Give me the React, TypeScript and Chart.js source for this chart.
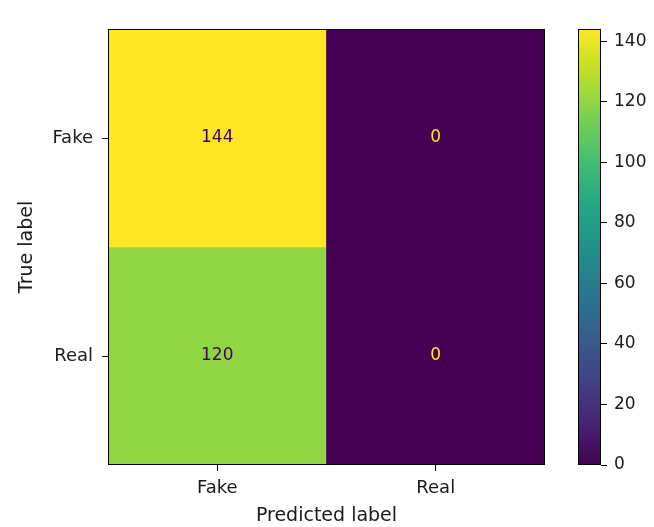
import React, { useEffect, useRef } from 'react';
import { Chart, registerables } from 'chart.js';

Chart.register(...registerables);

// ---- data ----
const predictedLabels = ['Fake', 'Real'];
const trueLabels = ['Fake', 'Real'];
const rowFake = [144, 0];
const rowReal = [120, 0];
const matrix = [rowFake, rowReal];
const colorbarTicks = [0, 20, 40, 60, 80, 100, 120, 140];
const vmin = 0;
const vmax = 144;
const xTitle = 'Predicted label';
const yTitle = 'True label';

// ---- viridis colormap stops ----
const VIRIDIS = [
  '#440154', '#482475', '#414487', '#355f8d', '#2a788e', '#21918c',
  '#22a884', '#44bf70', '#7ad151', '#bddf26', '#fde725',
];

function hexToRgb(h: string) {
  return [parseInt(h.slice(1, 3), 16), parseInt(h.slice(3, 5), 16), parseInt(h.slice(5, 7), 16)];
}

function viridis(t: number) {
  const tt = Math.max(0, Math.min(1, t)) * (VIRIDIS.length - 1);
  const i = Math.min(VIRIDIS.length - 2, Math.floor(tt));
  const f = tt - i;
  const a = hexToRgb(VIRIDIS[i]);
  const b = hexToRgb(VIRIDIS[i + 1]);
  const c = a.map((v, k) => Math.round(v + (b[k] - v) * f));
  return `rgb(${c[0]},${c[1]},${c[2]})`;
}

const norm = (v: number) => (v - vmin) / (vmax - vmin);
const FONT = 'DejaVu Sans';
const TEXT = '#1a1a1a';
const W = 654;
const H = 527;
const TICK_SIZE = 18;
const TITLE_SIZE = 19;
const CELL_SIZE = 17;

const framePlugin = {
  id: 'frame',
  afterDraw(chart: any) {
    const { left, top, right, bottom } = chart.chartArea;
    const ctx = chart.ctx;
    ctx.save();
    ctx.strokeStyle = '#000';
    ctx.lineWidth = 1;
    ctx.strokeRect(Math.round(left) + 0.5, Math.round(top) + 0.5, Math.round(right - left) - 1, Math.round(bottom - top) - 1);
    ctx.restore();
  },
};

const cellTextPlugin = {
  id: 'cellText',
  afterDatasetsDraw(chart: any) {
    const ctx = chart.ctx;
    const thresh = (vmin + vmax) / 2;
    ctx.save();
    ctx.font = `${CELL_SIZE}px "${FONT}"`;
    ctx.textAlign = 'center';
    ctx.textBaseline = 'middle';
    chart.data.datasets.forEach((_ds: any, di: number) => {
      const meta = chart.getDatasetMeta(di);
      meta.data.forEach((el: any, j: number) => {
        const v = matrix[di][j];
        const { x, y } = el.getCenterPoint();
        ctx.fillStyle = v >= thresh ? viridis(0) : viridis(1);
        ctx.fillText(String(v), x, y);
      });
    });
    ctx.restore();
  },
};

export default function App() {
  const mainRef = useRef<HTMLCanvasElement>(null);
  const cbRef = useRef<HTMLCanvasElement>(null);

  useEffect(() => {
    Chart.defaults.font.family = FONT;
    const n = trueLabels.length;
    const main = new Chart(mainRef.current!, {
      type: 'bar',
      data: {
        labels: predictedLabels,
        datasets: matrix.map((row, i) => ({
          label: trueLabels[i],
          data: row.map(() => [n - 1 - i, n - i]),
          backgroundColor: row.map((v) => viridis(norm(v))),
          borderWidth: 0,
          barPercentage: 1,
          categoryPercentage: 1,
          grouped: false,
        })) as any,
      },
      options: {
        animation: false,
        responsive: false,
        maintainAspectRatio: false,
        layout: { padding: { top: 29, right: 109, bottom: 0, left: 0 } },
        plugins: { legend: { display: false }, tooltip: { enabled: false } },
        scales: {
          x: {
            type: 'category',
            grid: { drawOnChartArea: false, offset: false, tickLength: 6, color: '#000' },
            border: { display: false },
            ticks: { font: { size: TICK_SIZE, family: FONT }, color: TEXT, padding: 7 },
            title: { display: true, text: xTitle, font: { size: TITLE_SIZE, family: FONT }, color: TEXT, padding: { top: 0, bottom: 0 } },
            afterFit: (s: any) => { s.height = 62; },
          },
          y: {
            type: 'linear',
            min: 0,
            max: n,
            afterBuildTicks: (s: any) => {
              s.ticks = trueLabels.map((_, i) => ({ value: i + 0.5 }));
            },
            grid: { drawOnChartArea: false, tickLength: 6, color: '#000' },
            border: { display: false },
            ticks: {
              font: { size: TICK_SIZE, family: FONT },
              color: TEXT,
              padding: 9,
              callback: (v: any) => trueLabels[n - 1 - Math.floor(Number(v))],
            },
            title: { display: true, text: yTitle, font: { size: TITLE_SIZE, family: FONT }, color: TEXT, padding: { top: 16, bottom: 0 } },
            afterFit: (s: any) => { s.width = 108; },
          },
        },
      },
      plugins: [cellTextPlugin, framePlugin],
    });

    const cb = new Chart(cbRef.current!, {
      type: 'bar',
      data: {
        labels: [''],
        datasets: [
          {
            data: [[vmin, vmax]] as any,
            borderWidth: 0,
            barPercentage: 1,
            categoryPercentage: 1,
            backgroundColor: (ctx: any) => {
              const chart = ctx.chart;
              const ca = chart.chartArea;
              if (!ca) return viridis(0.5);
              const ys = chart.scales.y;
              const g = chart.ctx.createLinearGradient(0, ys.getPixelForValue(vmin), 0, ys.getPixelForValue(vmax));
              VIRIDIS.forEach((c, i) => g.addColorStop(i / (VIRIDIS.length - 1), c));
              return g;
            },
          },
        ],
      },
      options: {
        animation: false,
        responsive: false,
        maintainAspectRatio: false,
        layout: { padding: { top: 29, right: 0, bottom: 62, left: 30 } },
        plugins: { legend: { display: false }, tooltip: { enabled: false } },
        scales: {
          x: { display: false },
          y: {
            type: 'linear',
            position: 'right',
            min: vmin,
            max: vmax,
            afterBuildTicks: (s: any) => {
              s.ticks = colorbarTicks.map((v) => ({ value: v }));
            },
            grid: { drawOnChartArea: false, tickLength: 6, color: '#000' },
            border: { display: false },
            ticks: { font: { size: CELL_SIZE, family: FONT }, color: TEXT, padding: 7 },
            afterFit: (s: any) => { s.width = 53; },
          },
        },
      },
      plugins: [framePlugin],
    });

    return () => {
      main.destroy();
      cb.destroy();
    };
  }, []);

  return (
    <div style={{ position: 'fixed', left: 0, top: 0, width: W, height: H, background: '#fff' }}>
      <canvas ref={mainRef} width={W} height={H} style={{ position: 'absolute', left: 0, top: 0, width: W, height: H }} />
      <canvas ref={cbRef} width={106} height={H} style={{ position: 'absolute', left: 548, top: 0, width: 106, height: H }} />
    </div>
  );
}
